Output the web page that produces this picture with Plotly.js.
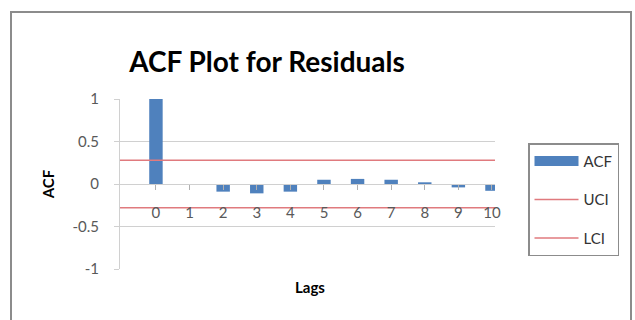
<!DOCTYPE html>
<html>
<head>
<meta charset="utf-8">
<script src="https://cdn.plot.ly/plotly-3.0.1.min.js"></script>
<style>
  html, body { margin: 0; padding: 0; background: #fff; overflow: hidden; width: 635px; height: 320px; }
  #frame { position: absolute; left: 10px; top: 11px; width: 622px; height: 309px;
           border: 2px solid #8c8c8c; border-bottom: none; box-sizing: border-box; }
  #chart { position: absolute; left: 0; top: 0; width: 635px; height: 320px; }
</style>
</head>
<body>
<div id="frame"></div>
<div id="chart"></div>
<script>
const lags = [0, 1, 2, 3, 4, 5, 6, 7, 8, 9, 10];
const acf  = [1, -0.01, -0.09, -0.11, -0.09, 0.05, 0.06, 0.05, 0.02, -0.04, -0.08];
const uci  = [0.28, 0.28, 0.28, 0.28, 0.28, 0.28, 0.28, 0.28, 0.28, 0.28, 0.28];
const lci  = [-0.28, -0.28, -0.28, -0.28, -0.28, -0.28, -0.28, -0.28, -0.28, -0.28, -0.28];
const yTicks = [-1, -0.5, 0, 0.5, 1];
const yTickText = ['-1', '-0.5', '0', '0.5', '1'];

const FONT = 'Lato, "Open Sans", sans-serif';
const blue = '#4F81BD';
const red = '#E07A7E';

const traces = [
  { type: 'bar', x: lags, y: acf, name: 'ACF', marker: { color: blue }, width: 0.4,
    showlegend: false, xaxis: 'x', yaxis: 'y', cliponaxis: true },
  { type: 'scatter', mode: 'lines', x: [null], y: [null], name: 'ACF',
    line: { color: blue, width: 10 }, legendgroup: 'a', xaxis: 'x', yaxis: 'y' },
  { type: 'scatter', mode: 'lines', x: lags, y: uci, name: 'UCI',
    line: { color: red, width: 1.5 }, legendgroup: 'b', xaxis: 'x2', yaxis: 'y' },
  { type: 'scatter', mode: 'lines', x: lags, y: lci, name: 'LCI',
    line: { color: red, width: 1.5 }, legendgroup: 'c', xaxis: 'x2', yaxis: 'y' }
];

const layout = {
  width: 635, height: 320,
  paper_bgcolor: 'rgba(0,0,0,0)', plot_bgcolor: 'rgba(0,0,0,0)',
  margin: { l: 120, r: 140, t: 99, b: 51 },
  font: { family: FONT, color: '#595959', size: 14 },
  title: { text: '<b>ACF Plot for Residuals</b>', font: { family: FONT, size: 28, color: '#000' },
           xref: 'container', yref: 'container', x: 267 / 635, y: 1 - 62 / 320,
           xanchor: 'center', yanchor: 'middle' },
  showlegend: true,
  legend: { x: 1.088, y: 0.74, xanchor: 'left', yanchor: 'top',
            bordercolor: '#8c8c8c', borderwidth: 1.5, bgcolor: '#fff',
            font: { family: FONT, size: 15, color: '#333' }, tracegroupgap: 16,
            traceorder: 'grouped', itemwidth: 44 },
  xaxis: {
    range: [-1.07, 10.09], tickvals: lags, ticktext: lags.map(String),
    anchor: 'free', position: 0.5, showline: true, linecolor: '#d0d0d0', linewidth: 1,
    ticks: 'outside', ticklen: 5, tickcolor: '#b0b0b0', ticklabelstandoff: 10,
    showgrid: false, zeroline: false, fixedrange: true,
    tickfont: { family: FONT, size: 15, color: '#595959' }
  },
  xaxis2: { range: [0, 10], overlaying: 'x', visible: false, fixedrange: true },
  yaxis: {
    range: [-1, 1], tickvals: yTicks, ticktext: yTickText,
    showline: true, linecolor: '#d0d0d0', linewidth: 1,
    ticks: 'outside', ticklen: 5, tickcolor: '#d0d0d0',
    showgrid: true, gridcolor: '#d0d0d0', gridwidth: 1, zeroline: false,
    ticklabelstandoff: 12, fixedrange: true,
    tickfont: { family: FONT, size: 15, color: '#595959' },
    title: { text: '<b>ACF</b>', font: { family: FONT, size: 15, color: '#000' }, standoff: 14 }
  },
  annotations: [
    { text: '<b>Lags</b>', xref: 'paper', yref: 'paper', x: (310 - 120) / 375, y: -18 / 170,
      xanchor: 'center', yanchor: 'middle', showarrow: false,
      font: { family: FONT, size: 15, color: '#000' } }
  ]
};

Plotly.newPlot('chart', traces, layout, { displayModeBar: false, staticPlot: true });
</script>
</body>
</html>
